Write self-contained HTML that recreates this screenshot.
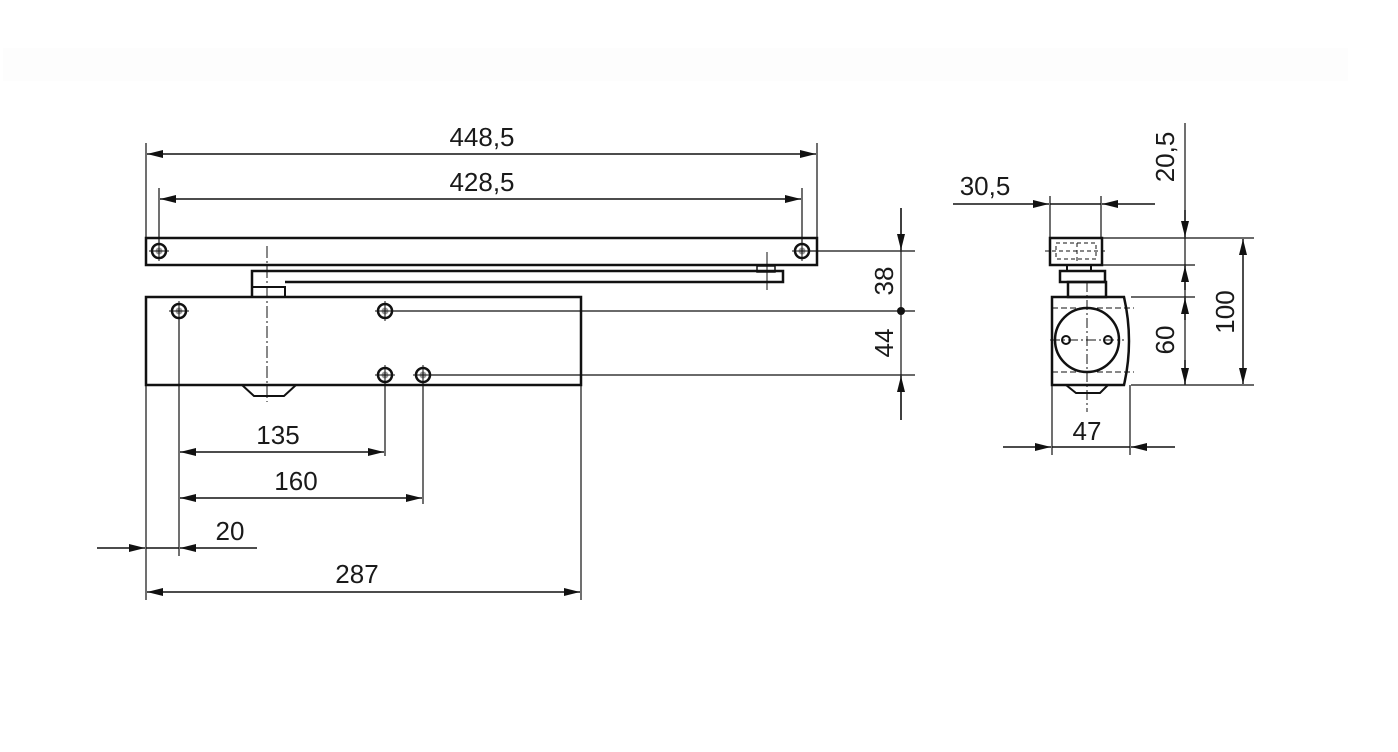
<!DOCTYPE html>
<html><head><meta charset="utf-8"><style>
html,body{margin:0;padding:0;background:#fff;}
svg{display:block}
text{font-family:"Liberation Sans Narrow","Liberation Sans",sans-serif;font-size:26px;fill:#1a1a1a}
</style></head><body>
<svg width="1398" height="752" viewBox="0 0 1398 752" xmlns="http://www.w3.org/2000/svg">
<defs>
<marker id="a" viewBox="0 0 16 8" refX="16" refY="4" markerWidth="16" markerHeight="8" markerUnits="userSpaceOnUse" orient="auto-start-reverse"><path d="M0,0 L16,4 L0,8 Z" fill="#111"/></marker>
<g id="hole"><circle r="7" fill="#fff" stroke="#111" stroke-width="2.5"/><circle r="3.5" fill="#999"/><path d="M-10,0H10M0,-10V10" stroke="#111" stroke-width="1"/></g>
</defs>
<rect x="3" y="48" width="1345" height="33" fill="#fdfdfd"/>
<g stroke="#111" fill="none">
<rect x="146" y="238" width="671" height="27" stroke-width="2.5" fill="#fff"/>
<path d="M252,297 V271 H783 V282 H285" stroke-width="2.5"/>
<rect x="757" y="266" width="18" height="6" stroke-width="1.5"/>
<path d="M767,252 V290" stroke-width="1"/>
<path d="M252,287 H285 V297" stroke-width="2"/>
<rect x="146" y="297" width="435" height="88" stroke-width="2.5" fill="#fff"/>
<path d="M242,385 L254,396 H284 L296,385" stroke-width="2"/>
<path d="M267,246 V402" stroke-width="1" stroke-dasharray="12,3,2,3"/>
<g stroke-width="1.2">
<path d="M146,143 V238 M817,143 V238 M159,188 V251 M802,188 V251"/>
<path d="M146,385 V600 M581,385 V600 M179,311 V556 M385,375 V456 M423,375 V504"/>
<path d="M810,251 H915 M392,311 H915 M430,375 H915"/>
<path d="M901,208 V251 M901,375 V420 M901,251 V375"/>
</g>
<g stroke-width="1.5">
<path d="M147,154 H816" marker-start="url(#a)" marker-end="url(#a)"/>
<path d="M160,199 H801" marker-start="url(#a)" marker-end="url(#a)"/>
<path d="M180,452 H384" marker-start="url(#a)" marker-end="url(#a)"/>
<path d="M180,498 H422" marker-start="url(#a)" marker-end="url(#a)"/>
<path d="M147,592 H580" marker-start="url(#a)" marker-end="url(#a)"/>
<path d="M97,548 H145" marker-end="url(#a)"/>
<path d="M257,548 H180" marker-end="url(#a)"/>
<path d="M146,548 H179"/>
<path d="M901,208 V250" marker-end="url(#a)"/>
<path d="M901,420 V376" marker-end="url(#a)"/>
</g>
</g>
<circle cx="901" cy="311" r="4" fill="#111"/>
<use href="#hole" x="159" y="251"/>
<use href="#hole" x="802" y="251"/>
<use href="#hole" x="179" y="311"/>
<use href="#hole" x="385" y="311"/>
<use href="#hole" x="385" y="375"/>
<use href="#hole" x="423" y="375"/>
<text x="482" y="146" text-anchor="middle">448,5</text>
<text x="482" y="191" text-anchor="middle">428,5</text>
<text x="278" y="444" text-anchor="middle">135</text>
<text x="296" y="490" text-anchor="middle">160</text>
<text x="230" y="540" text-anchor="middle">20</text>
<text x="357" y="583" text-anchor="middle">287</text>
<text transform="translate(893,281) rotate(-90)" text-anchor="middle">38</text>
<text transform="translate(893,343) rotate(-90)" text-anchor="middle">44</text>
<g stroke="#111" fill="none">
<rect x="1050" y="238" width="52" height="27" stroke-width="2.5"/>
<path d="M1056,243 H1096 V259 H1056 Z M1045,251 H1107 M1077,243 V265" stroke-width="1" stroke-dasharray="4,3"/>
<rect x="1067" y="265" width="24" height="6" stroke-width="2"/>
<rect x="1060" y="271" width="45" height="11" stroke-width="2.5"/>
<rect x="1068" y="282" width="38" height="15" stroke-width="2.5"/>
<path d="M1052,297 H1124 Q1134,341 1124,385 H1052 Z" stroke-width="2.5"/>
<path d="M1052,308 H1134 M1052,372 H1134" stroke-width="1" stroke-dasharray="6,3"/>
<circle cx="1087" cy="340" r="32" stroke-width="2.5"/>
<circle cx="1066" cy="340" r="4" stroke-width="2"/>
<circle cx="1108" cy="340" r="4" stroke-width="2"/>
<path d="M1050,340 H1124 M1087,282 V412" stroke-width="1" stroke-dasharray="10,3,2,3"/>
<path d="M1066,385 L1076,393 H1100 L1108,385" stroke-width="2"/>
<g stroke-width="1.2">
<path d="M1050,196 V238 M1101,196 V238"/>
<path d="M1102,238 H1254 M1102,265 H1195 M1131,297 H1195 M1131,385 H1254"/>
<path d="M1052,385 V455 M1130,385 V455"/>
<path d="M1185,123 V385"/>
</g>
<g stroke-width="1.5">
<path d="M953,204 H1049" marker-end="url(#a)"/>
<path d="M1155,204 H1102" marker-end="url(#a)"/>
<path d="M1050,204 H1101"/>
<path d="M1185,210 V237" marker-end="url(#a)"/>
<path d="M1185,290 V266" marker-end="url(#a)"/>
<path d="M1185,320 V298" marker-end="url(#a)"/>
<path d="M1185,360 V384" marker-end="url(#a)"/>
<path d="M1243,311 V239" marker-end="url(#a)"/>
<path d="M1243,311 V384" marker-end="url(#a)"/>
<path d="M1003,447 H1051" marker-end="url(#a)"/>
<path d="M1175,447 H1131" marker-end="url(#a)"/>
<path d="M1052,447 H1130"/>
</g>
</g>
<text x="985" y="195" text-anchor="middle">30,5</text>
<text transform="translate(1174,157) rotate(-90)" text-anchor="middle">20,5</text>
<text transform="translate(1174,340) rotate(-90)" text-anchor="middle">60</text>
<text transform="translate(1234,312) rotate(-90)" text-anchor="middle">100</text>
<text x="1087" y="440" text-anchor="middle">47</text>
</svg>
</body></html>
